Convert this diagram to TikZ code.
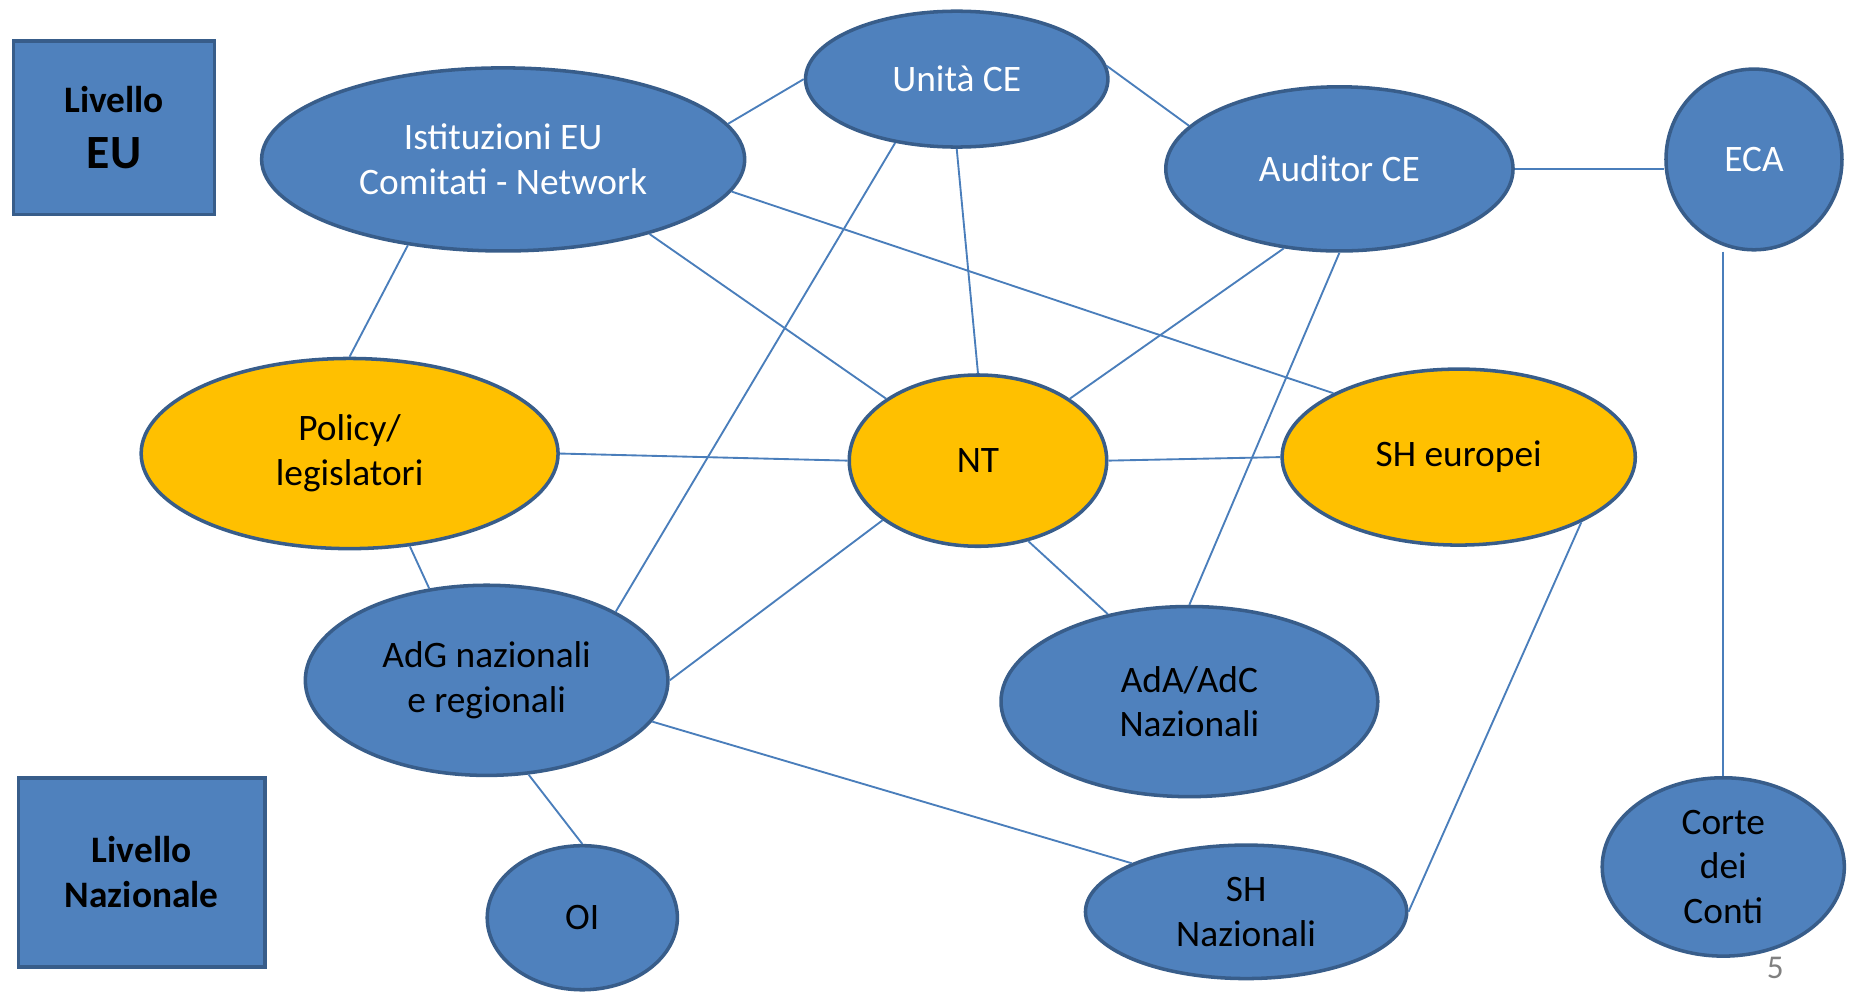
\documentclass[tikz,border=0pt]{standalone}
\usepackage{fontspec}
\setmainfont{Carlito}
\usepackage{xcolor}
\usetikzlibrary{shapes.geometric}
\definecolor{fillblue}{RGB}{79,129,189}
\definecolor{rimblue}{RGB}{56,93,138}
\definecolor{linkblue}{RGB}{74,126,187}
\definecolor{gold}{RGB}{255,192,0}

\begin{document}
\begin{tikzpicture}[
		bubble/.style={ellipse, draw=rimblue, line width=1.7pt, fill=fillblue, inner sep=0pt, align=center, font=\fontsize{18}{21.6}\selectfont},
		eububble/.style={bubble, text=white},
		goldbubble/.style={bubble, fill=gold},
		levelbox/.style={rectangle, draw=rimblue, line width=1.7pt, fill=fillblue, inner sep=0pt, align=center, font=\bfseries\fontsize{18}{21.6}\selectfont},
		link/.style={linkblue, line width=0.9pt}]
				\useasboundingbox (0,0) rectangle (31.36,16.8);
				
				% Level boxes
				\node[levelbox, minimum width=3.40cm, minimum height=2.94cm] (lvleu) at (1.93,14.64) {Livello\\[5.5pt]{\fontsize{23}{26}\selectfont EU}};
				\node[levelbox, minimum width=4.18cm, minimum height=3.20cm] (lvlnaz) at (2.40,2.03) {Livello\\Nazionale};
				
				% EU level
				\node[eububble, minimum width=5.12cm, minimum height=2.30cm] (unita) at (16.20,15.46) {Unità CE};
				\node[eububble, minimum width=8.18cm, minimum height=3.10cm] (ist) at (8.52,14.10) {Istituzioni EU\\Comitati - Network};
				\node[eububble, minimum width=5.88cm, minimum height=2.78cm] (aud) at (22.68,13.94) {Auditor CE};
				\node[eububble, minimum width=2.98cm, minimum height=3.06cm] (eca) at (29.70,14.10) {ECA};
				
				% Middle row
				\node[goldbubble, minimum width=7.06cm, minimum height=3.22cm] (policy) at (5.92,9.12) {Policy/\\legislatori};
				\node[goldbubble, minimum width=4.36cm, minimum height=2.90cm] (nt) at (16.56,9.00) {NT};
				\node[goldbubble, minimum width=5.98cm, minimum height=2.98cm] (sheu) at (24.70,9.06) {SH europei};
				
				% National level
				\node[bubble, minimum width=6.14cm, minimum height=3.22cm] (adg) at (8.24,5.28) {AdG nazionali\\e regionali};
				\node[bubble, minimum width=6.38cm, minimum height=3.22cm] (ada) at (20.14,4.92) {AdA/AdC\\Nazionali};
				\node[bubble, minimum width=3.22cm, minimum height=2.44cm] (oi) at (9.86,1.26) {OI};
				\node[bubble, minimum width=5.44cm, minimum height=2.26cm] (shnaz) at (21.10,1.36) {SH\\Nazionali};
				\node[bubble, minimum width=4.10cm, minimum height=3.02cm] (corte) at (29.18,2.12) {Corte\\dei\\Conti};
				
				% Links
				\draw[link] (ist.9) -- (unita.west);
				\draw[link] (unita.5) -- (aud.164);
				\draw[link] (aud.east) -- (aud.east -| eca.west);
				\draw[link] (eca.south -| corte.north) -- (corte.north);
				\draw[link] (ist.222) -- (policy.north);
				\draw[link] (ist.-27) -- (nt.146);
				\draw[link] (ist.-8) -- (sheu.153);
				\draw[link] (unita.south) -- (nt.north);
				\draw[link] (unita.226) -- (adg.28);
				\draw[link] (aud.235) -- (nt.34);
				\draw[link] (aud.south) -- (ada.north);
				\draw[link] (policy.east) -- (nt.west);
				\draw[link] (nt.east) -- (sheu.west);
				\draw[link] (policy.-57) -- (adg.122);
				\draw[link] (nt.212) -- (adg.east);
				\draw[link] (nt.-58) -- (ada.133);
				\draw[link] (adg.-14) -- (shnaz.157);
				\draw[link] (adg.-66) -- (oi.north);
				\draw[link] (sheu.-28) -- (shnaz.east);
				
				% Page number
				\node[text=gray, font=\fontsize{16}{18}\selectfont, anchor=south, inner sep=0pt] (pag) at (30.06,0.22) {5};
			\end{tikzpicture}
\end{document}
